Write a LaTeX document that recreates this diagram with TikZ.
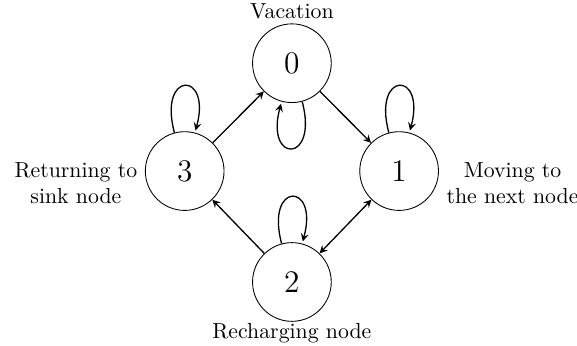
\documentclass[tikz,border=0pt]{standalone}
\usepackage{xcolor}
\usepackage{tikz}
\usetikzlibrary{arrows}

\begin{document}
\begin{tikzpicture}[>=stealth, station/.style={draw, circle, minimum size=1.27cm, font=\Large}]
                \useasboundingbox (-4.71,1.02) rectangle (4.60,-4.55);
                \node[station] (s0) at (0,0) {0};
                \node[station] (s1) at (1.73,-1.74) {1};
                \node[station] (s3) at (-1.73,-1.74) {3};
                \node[station] (s2) at (0,-3.53) {2};
                \node[above, yshift=-0.05cm] (l0) at (s0.north) {Vacation};
                \node[right, align=center, yshift=-0.2cm] (l1) at (s1.east) {Moving to\\the next node};
                \node[left, align=center, yshift=-0.2cm] (l3) at (s3.west) {Returning to\\sink node};
                \node[below, yshift=0.1cm] (l2) at (s2.south) {Recharging node};
                \draw[->, semithick] (s0) -- (s1);
                \draw[->, semithick] (s3) -- (s0);
                \draw[->, semithick] (s2) -- (s3);
                \draw[<->, semithick] (s1) -- (s2);
                \draw[->, semithick] (s0) edge[loop below] (s0);
                \draw[->, semithick] (s1) edge[loop above] (s1);
                \draw[->, semithick] (s3) edge[loop above] (s3);
                \draw[->, semithick] (s2) edge[loop above] (s2);
            \end{tikzpicture}
\end{document}
